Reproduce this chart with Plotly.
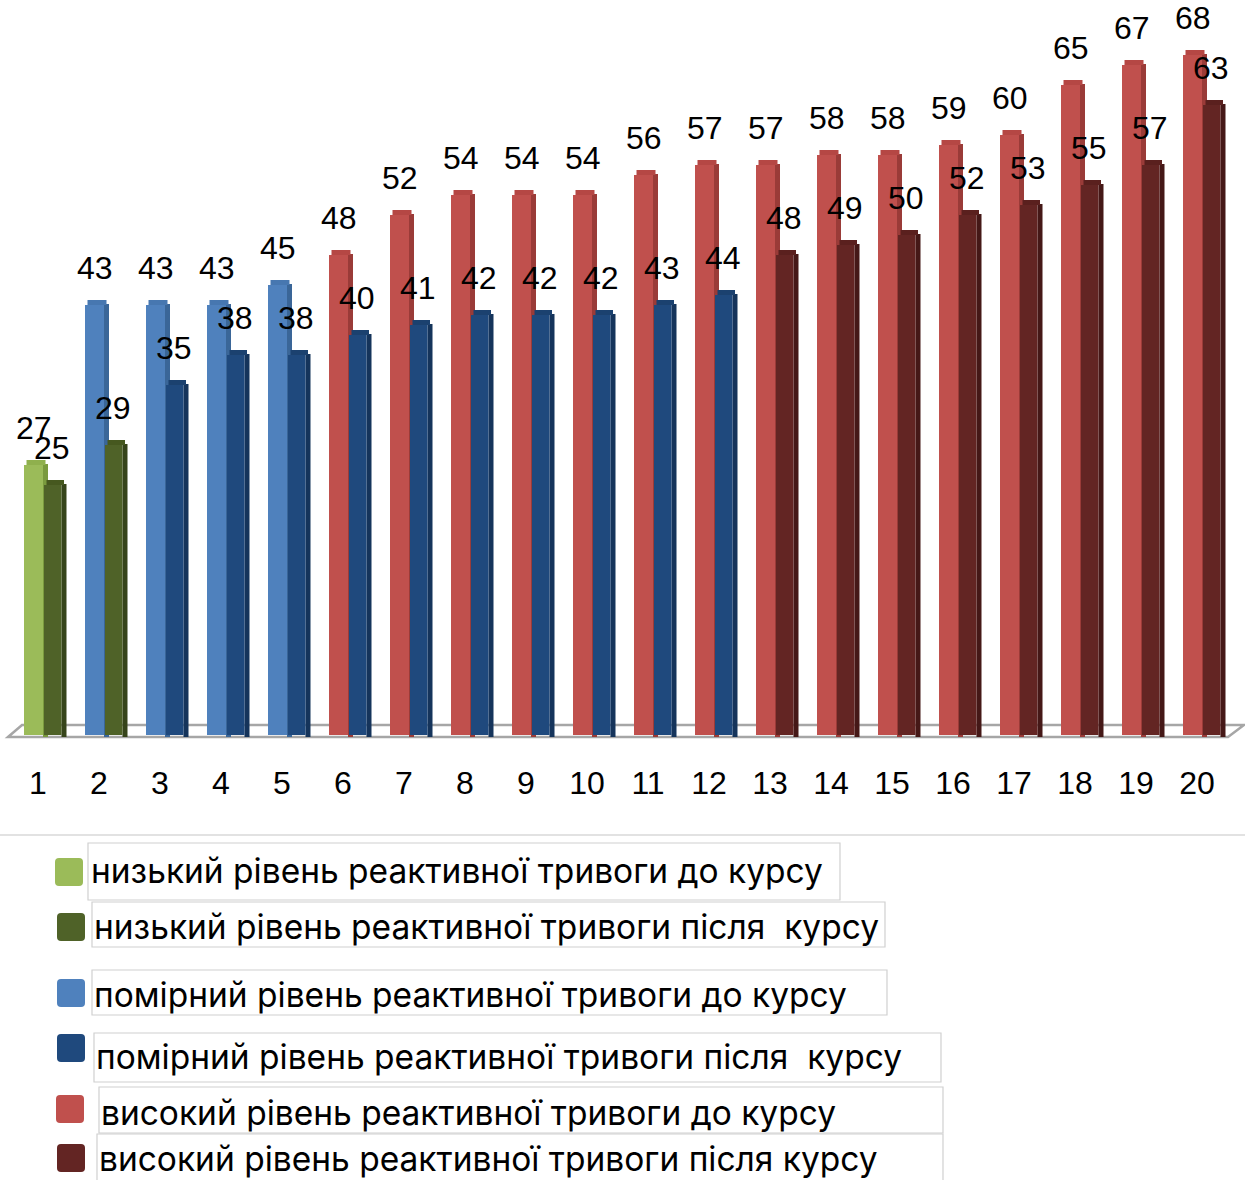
import plotly.graph_objects as go

# --- data -------------------------------------------------------------
categories = list(range(1, 21))
before_vals = [27, 43, 43, 43, 45, 48, 52, 54, 54, 54, 56, 57, 57, 58, 58, 59, 60, 65, 67, 68]
after_vals = [25, 29, 35, 38, 38, 40, 41, 42, 42, 42, 43, 44, 48, 49, 50, 52, 53, 55, 57, 63]
# anxiety level of each value: "low", "mod", "high"
before_level = ["low"] + ["mod"] * 4 + ["high"] * 15
after_level = ["low"] * 2 + ["mod"] * 10 + ["high"] * 8

series_names = {
    ("low", "before"): "низький рівень реактивної тривоги до курсу",
    ("low", "after"): "низький рівень реактивної тривоги після  курсу",
    ("mod", "before"): "помірний рівень реактивної тривоги до курсу",
    ("mod", "after"): "помірний рівень реактивної тривоги після  курсу",
    ("high", "before"): "високий рівень реактивної тривоги до курсу",
    ("high", "after"): "високий рівень реактивної тривоги після курсу",
}
legend_order = [("low", "before"), ("low", "after"), ("mod", "before"),
                ("mod", "after"), ("high", "before"), ("high", "after")]

# front / side / top face colours of each series
colors = {
    ("low", "before"): ("#9BBB59", "#7A9A3E", "#8FB04D"),
    ("low", "after"): ("#4F6228", "#36441A", "#46581F"),
    ("mod", "before"): ("#4F81BD", "#3A6698", "#4777B0"),
    ("mod", "after"): ("#1F497D", "#15345B", "#1B416F"),
    ("high", "before"): ("#C0504D", "#9A3B38", "#B54744"),
    ("high", "after"): ("#632523", "#451817", "#5A201E"),
}

# --- geometry ---------------------------------------------------------
W, H = 1245, 1180
PX_PER_UNIT = 61.0          # horizontal pixels per category
X0 = 0.377                  # left edge of x range
Y_PX = 10.0                 # vertical pixels per value unit
PLOT_BOTTOM = 745           # px where the plot area ends
Y_MIN = -1.0
Y_MAX = Y_MIN + PLOT_BOTTOM / Y_PX

u = 1.0 / PX_PER_UNIT
DEPTH = 0.5                 # apparent 3D depth (value units)
layout_bars = {
    # (front offset, front width, side offset, side width)
    "before": (-14 * u, 19 * u, 5 * u, 5 * u),
    "after": (6 * u, 17.5 * u, 23.5 * u, 5 * u),
}
label_dx = {"before": -4.5 * u, "after": 13.5 * u}


def xd(px):
    return X0 + px / PX_PER_UNIT


def yd(py):
    return (735 - py) / Y_PX


def xp(px):
    return px / W


def yp(py):
    return (PLOT_BOTTOM - py) / PLOT_BOTTOM


fig = go.Figure()

# bars: "before" series first so the "after" bars sit in front of them
for phase in ("before", "after"):
    vals = before_vals if phase == "before" else after_vals
    levels = before_level if phase == "before" else after_level
    f_off, f_w, s_off, s_w = layout_bars[phase]
    for lvl in ("low", "mod", "high"):
        key = (lvl, phase)
        front_c, side_c, top_c = colors[key]
        xs = [c for c, l in zip(categories, levels) if l == lvl]
        ys = [v for v, l in zip(vals, levels) if l == lvl]
        if not xs:
            continue
        # side face
        fig.add_trace(go.Bar(
            x=xs, y=[v + DEPTH * 0.6 for v in ys], base=DEPTH * 0.6 - DEPTH,
            offset=s_off, width=s_w, marker=dict(color=side_c, line=dict(width=0)),
            showlegend=False, hoverinfo="skip"))
        # top face
        fig.add_trace(go.Bar(
            x=xs, y=[DEPTH] * len(ys), base=ys,
            offset=f_off + 2.5 * u, width=f_w, marker=dict(color=top_c, line=dict(width=0)),
            showlegend=False, hoverinfo="skip"))
        # front face
        fig.add_trace(go.Bar(
            x=xs, y=ys, offset=f_off, width=f_w, name=series_names[key],
            marker=dict(color=front_c, line=dict(width=0)),
            showlegend=False))

# value labels
annotations = []
for phase in ("before", "after"):
    vals = before_vals if phase == "before" else after_vals
    for c, v in zip(categories, vals):
        annotations.append(dict(
            x=c + label_dx[phase], y=v, xref="x", yref="y", text=str(v),
            showarrow=False, yshift=37, xanchor="center", yanchor="middle",
            font=dict(family="Liberation Sans", size=32, color="#000000")))

# legend block: swatches, boxed labels
shapes = []
swatches = [(55, 858), (57, 913), (57, 979), (57, 1034), (56, 1095), (57, 1144)]
boxes = [(88, 843, 840, 900), (92, 902, 885, 947), (92, 970, 887, 1015),
         (94, 1033, 941, 1082), (99, 1087, 943, 1133), (97, 1134, 943, 1182)]
text_pos = [(89, 871), (92, 927), (92, 995), (94, 1057), (99, 1113), (97, 1159)]

for i, key in enumerate(legend_order):
    sx, sy = swatches[i]
    s = 28
    r = 4
    x1, x2 = sx, sx + s
    y1, y2 = sy, sy + s
    path = (f"M {xp(x1 + r)},{yp(y1)} L {xp(x2 - r)},{yp(y1)} Q {xp(x2)},{yp(y1)} {xp(x2)},{yp(y1 + r)} "
            f"L {xp(x2)},{yp(y2 - r)} Q {xp(x2)},{yp(y2)} {xp(x2 - r)},{yp(y2)} "
            f"L {xp(x1 + r)},{yp(y2)} Q {xp(x1)},{yp(y2)} {xp(x1)},{yp(y2 - r)} "
            f"L {xp(x1)},{yp(y1 + r)} Q {xp(x1)},{yp(y1)} {xp(x1 + r)},{yp(y1)} Z")
    shapes.append(dict(type="path", xref="paper", yref="paper", path=path,
                       fillcolor=colors[key][0], line=dict(width=0)))
    bx1, by1, bx2, by2 = boxes[i]
    shapes.append(dict(type="rect", xref="paper", yref="paper",
                       x0=xp(bx1), x1=xp(bx2), y0=yp(by1), y1=yp(by2),
                       line=dict(color="#d0d0d0", width=1.2), fillcolor="rgba(0,0,0,0)"))
    tx, ty = text_pos[i]
    annotations.append(dict(
        x=xp(tx), y=yp(ty), xref="paper", yref="paper", text=series_names[key],
        showarrow=False, xanchor="left", yanchor="middle", align="left",
        font=dict(family="Inter", size=33.5, color="#000000")))

# chart floor
floor_pts = [(8, 737), (22, 725), (1244, 725), (1228, 737)]
floor_path = "M " + " L ".join(f"{xd(px):.4f},{yd(py):.3f}" for px, py in floor_pts) + " Z"
shapes.append(dict(type="path", xref="x", yref="y", path=floor_path, layer="below",
                   fillcolor="#ffffff", line=dict(color="#a6a6a6", width=2.5)))

# separator above legend
shapes.append(dict(type="line", xref="paper", yref="paper", x0=0, x1=1,
                   y0=yp(835), y1=yp(835), line=dict(color="#d9d9d9", width=1.5)))

fig.update_layout(
    width=W, height=H, autosize=False,
    margin=dict(l=0, r=0, t=0, b=H - PLOT_BOTTOM, pad=0),
    barmode="overlay",
    paper_bgcolor="#ffffff", plot_bgcolor="#ffffff",
    showlegend=False,
    xaxis=dict(range=[X0, X0 + W / PX_PER_UNIT], tickvals=categories,
               ticktext=[str(c) for c in categories], showgrid=False,
               zeroline=False, showline=False, ticks="", ticklabelstandoff=16,
               tickfont=dict(family="Liberation Sans", size=32, color="#000000"),
               fixedrange=True),
    yaxis=dict(range=[Y_MIN, Y_MAX], visible=False, fixedrange=True),
    shapes=shapes,
    annotations=annotations,
)

fig.write_html("out.html")
